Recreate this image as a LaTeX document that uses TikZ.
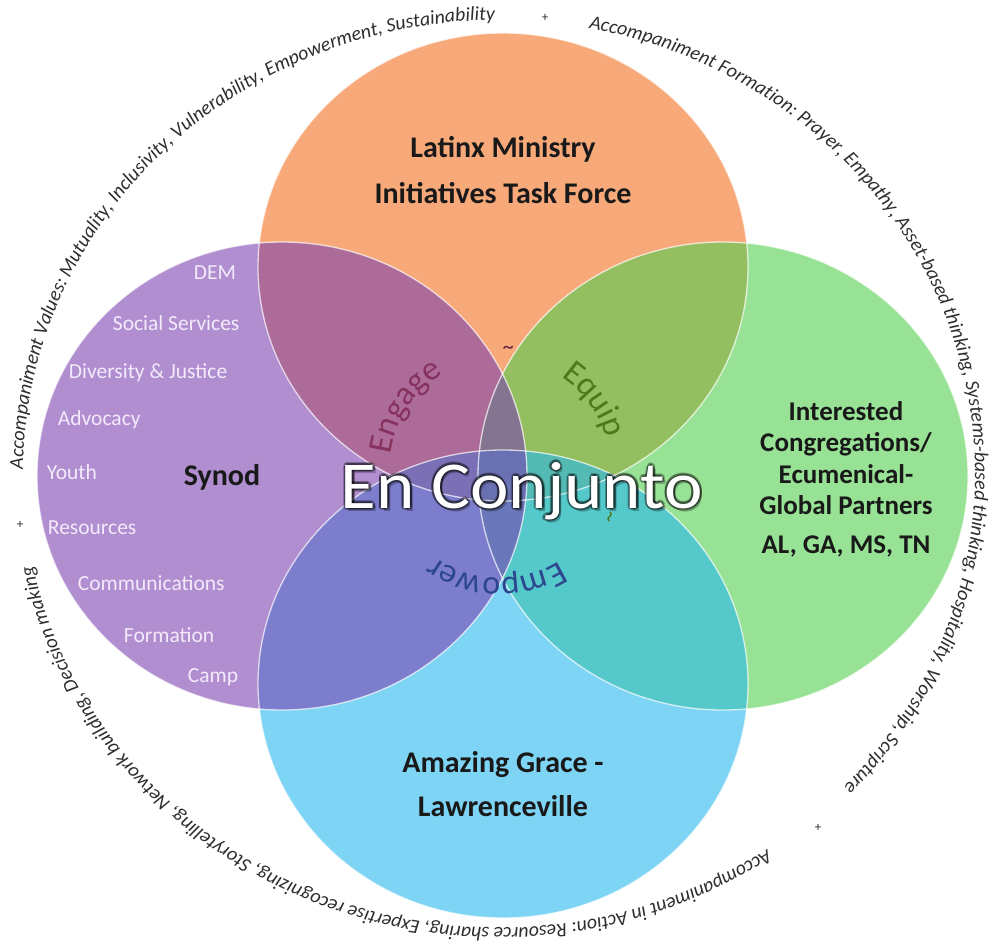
\documentclass[tikz,border=0pt]{standalone}
\usepackage{fontspec}
\setmainfont{Carlito}
\usepackage{graphicx}
\usepackage{tikz}
\usetikzlibrary{decorations.text}

\definecolor{venorange}{HTML}{F47020}
\definecolor{venpurple}{HTML}{7B43B1}
\definecolor{vengreen}{HTML}{53CF50}
\definecolor{venblue}{HTML}{28B7ED}
\definecolor{listtext}{HTML}{F3EAFB}
\definecolor{ringtext}{HTML}{2E2E2E}
\definecolor{engagecol}{HTML}{86325F}
\definecolor{equipcol}{HTML}{4C7A1E}
\definecolor{empowercol}{HTML}{2D4690}

\tikzset{
  venfill/.style={fill=#1, fill opacity=0.6, draw=none},
  venedge/.style={draw=white, draw opacity=0.7, line width=1.3},
  listitem/.style={anchor=west, inner sep=0.75pt, text=listtext, font=\fontsize{21.5}{25}\selectfont},
  bigtitle/.style={align=center, inner sep=0.75pt, text=black!90, font=\bfseries\fontsize{30}{46}\selectfont},
  sepmark/.style={inner sep=0pt, font=\fontsize{13}{15}\selectfont, text=ringtext},
  bigword/.style={anchor=base, inner sep=0pt, font=\fontsize{67}{80}\selectfont},
}

\begin{document}
\begin{tikzpicture}[x=1pt,y=1pt,yscale=-1,xscale=1]
\useasboundingbox (0,0) rectangle (992,948);

%Shape: Ellipse [orange]
\draw [venfill=venorange] (503,267) ellipse [x radius=245, y radius=234];
%Shape: Ellipse [green]
\draw [venfill=vengreen] (723,476) ellipse [x radius=245, y radius=234];
%Shape: Ellipse [blue]
\draw [venfill=venblue] (503,684) ellipse [x radius=245, y radius=234];
%Shape: Ellipse [purple]
\draw [venfill=venpurple] (282,476) ellipse [x radius=245, y radius=234];

%Edges of the four rings
\draw [venedge] (503,267) ellipse [x radius=245, y radius=234];
\draw [venedge] (723,476) ellipse [x radius=245, y radius=234];
\draw [venedge] (503,684) ellipse [x radius=245, y radius=234];
\draw [venedge] (282,476) ellipse [x radius=245, y radius=234];

% Text Node
\draw (503,170) node (latinx) [bigtitle] {Latinx Ministry\\Initiatives Task Force};
% Text Node
\draw (222,477) node (synod) [bigtitle] {Synod};
% Text Node
\draw (846,479) node (partners) [bigtitle, font=\bfseries\fontsize{27}{31.5}\selectfont] {Interested\\Congregations/\\Ecumenical-\\Global Partners\\[7pt]AL, GA, MS, TN};
% Text Node
\draw (503,784) node (amazing) [bigtitle, font=\bfseries\fontsize{30}{44}\selectfont] {Amazing Grace -\\Lawrenceville};

% Synod list
\draw (193,273) node (dem) [listitem] {DEM};
\draw (112,323) node (social) [listitem] {Social Services};
\draw (68,373) node (diversity) [listitem] {Diversity \& Justice};
\draw (57,420) node (advocacy) [listitem] {Advocacy};
\draw (46,472) node (youth) [listitem] {Youth};
\draw (47,528) node (resources) [listitem] {Resources};
\draw (77,583) node (comms) [listitem] {Communications};
\draw (123,635) node (formation) [listitem] {Formation};
\draw (187,677) node (camp) [listitem] {Camp};

%Inner ring words
\begin{scope}[shift={(500,468)},yscale=-1]
\path [decorate, decoration={text along path, text align=center, text={|\fontsize{34}{38}\selectfont\color{engagecol}|Engage}}] (180:110) arc [start angle=180, end angle=114, radius=110];
\path [decorate, decoration={text along path, text align=center, text={|\fontsize{34}{38}\selectfont\color{equipcol}|Equip}}] (68:110) arc [start angle=68, end angle=4, radius=110];
\path [decorate, decoration={text along path, text align=center, text={|\fontsize{34}{38}\selectfont\color{empowercol}|Empower}}] (-35:110) arc [start angle=-35, end angle=-149, radius=110];
\draw (86:118) node (tilde1) [inner sep=0pt, rotate=-4, text=engagecol!70!black, font=\fontsize{22}{24}\selectfont] {\textasciitilde};
\draw (-24:118) node (tilde2) [inner sep=0pt, rotate=-114, text=equipcol, font=\fontsize{22}{24}\selectfont] {\textasciitilde};
\draw (-164:118) node (tilde3) [inner sep=0pt, rotate=106, text=empowercol, font=\fontsize{22}{24}\selectfont] {\textasciitilde};
\end{scope}

% Big label with a soft dark outline
\foreach \dx/\dy [count=\k] in {-1.6/-1.6, 1.6/-1.6, -1.6/1.6, 1.6/1.6, 0/2.2, 2.2/0, -2.2/0, 0/-2.2, 2.5/3}
  \draw (522+\dx,508+\dy) node (glow\k) [bigword, text=black, text opacity=0.28] {\scalebox{1.09}[1]{En Conjunto}};
\draw (522,508) node (enconjunto) [bigword, text=white] {\scalebox{1.09}[1]{En Conjunto}};

%Outer ring text
\begin{scope}[shift={(499,474)},yscale=-1]
\path [decorate, decoration={text along path, text align=center, text={|\itshape\fontsize{19.8}{22}\selectfont\color{ringtext}|Accompaniment Values: Mutuality, Inclusivity, Vulnerability, Empowerment, Sustainability}}] (181:476 and 454) arc [start angle=181, end angle=89, x radius=476, y radius=454];
\path [decorate, decoration={text along path, text align=center, text={|\itshape\fontsize{19.8}{22}\selectfont\color{ringtext}|Accompaniment Formation: Prayer, Empathy, Asset-based thinking, Systems-based thinking, Hospitality, Worship, Scripture}}] (79:476 and 454) arc [start angle=79, end angle=-43.5, x radius=476, y radius=454];
\path [decorate, decoration={text along path, text align=center, text={|\itshape\fontsize{19.8}{22}\selectfont\color{ringtext}|Accompaniment in Action: Resource sharing, Expertise recognizing, Storytelling, Network building, Decision making}}] (-55.5:476 and 454) arc [start angle=-55.5, end angle=-168.5, x radius=476, y radius=454];
\end{scope}

% Text Node
\draw (545,18) node (plustop) [sepmark] {+};
% Text Node
\draw (20,525) node (plusleft) [sepmark] {+};
% Text Node
\draw (818,828) node (plusright) [sepmark] {+};
\end{tikzpicture}
\end{document}
